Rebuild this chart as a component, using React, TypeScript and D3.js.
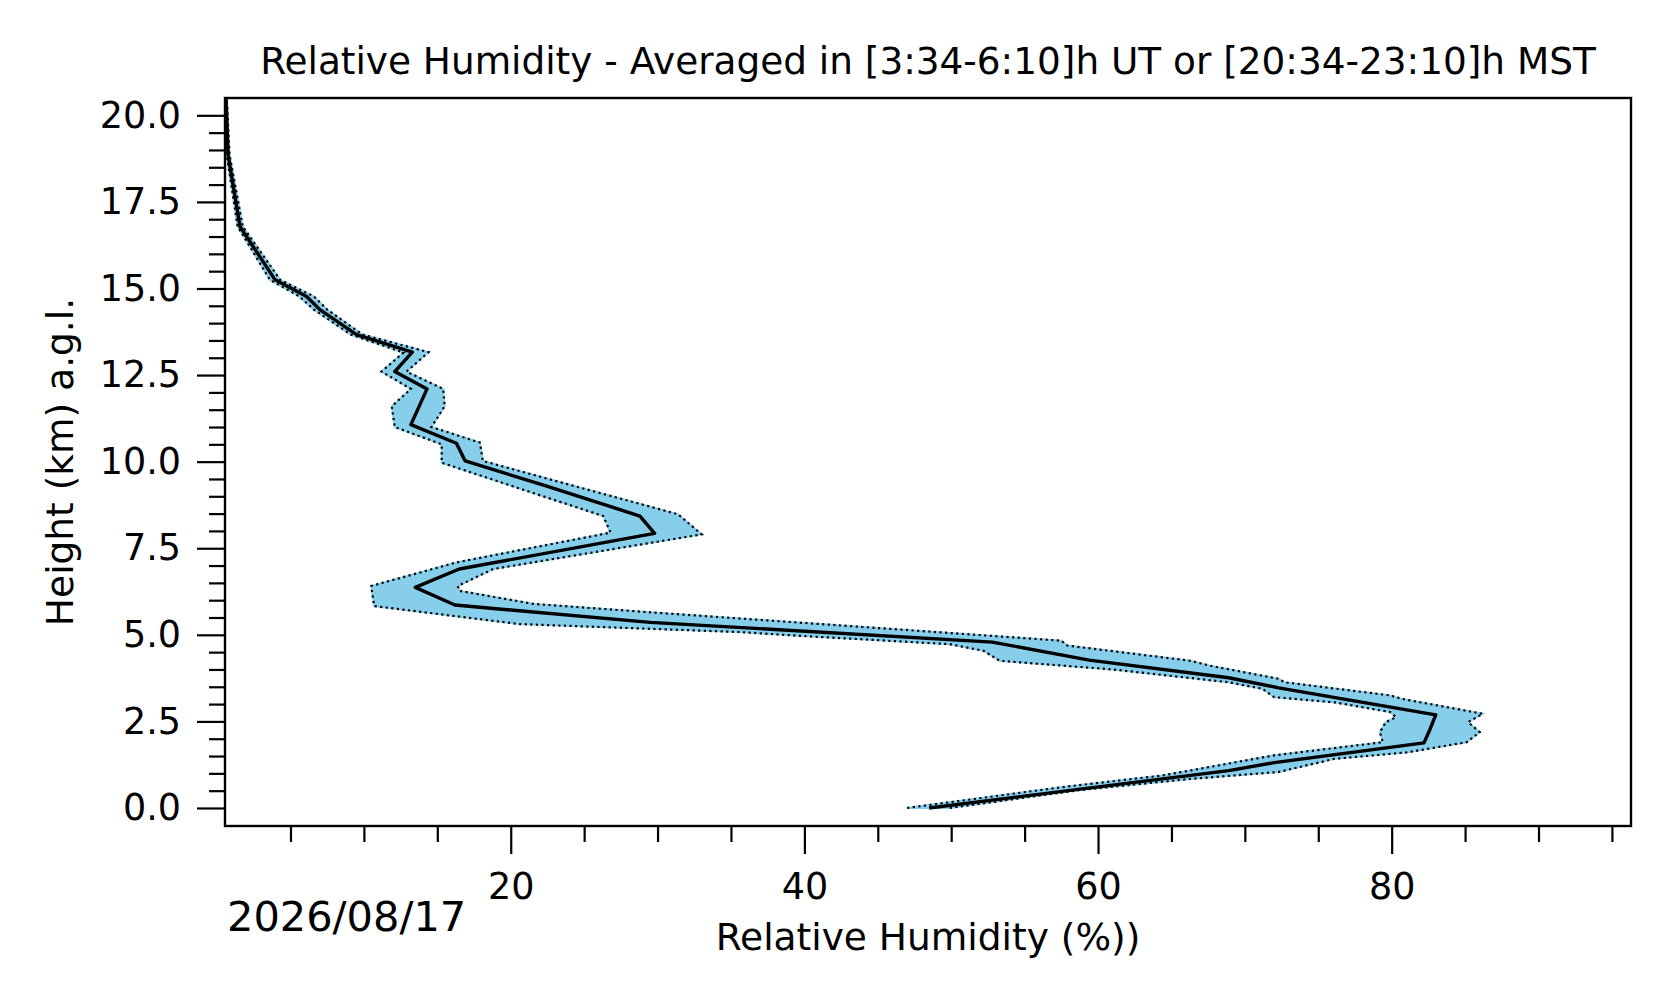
import React, { useEffect, useRef } from 'react';
import * as d3 from 'd3';

// profiles as [relative humidity %, height km]
const meanProfile: [number, number][] = [
  [48.5, 0.0], [68.9, 1.08], [72.0, 1.31], [82.2, 1.88], [82.6, 2.26], [83.0, 2.69],
  [72.3, 3.47], [68.9, 3.76], [59.4, 4.27], [52.8, 4.79], [29.5, 5.36], [16.2, 5.86],
  [13.5, 6.37], [16.5, 6.9], [29.8, 7.93], [28.8, 8.43], [22.4, 9.3], [16.9, 10.02],
  [16.3, 10.53], [13.2, 11.07], [14.3, 12.1], [12.1, 12.6], [13.3, 13.16], [9.5, 13.67],
  [7.0, 14.39], [6.1, 14.77], [3.95, 15.25], [1.56, 16.79], [0.75, 18.86], [0.6, 20.6],
];

const upperProfile: [number, number][] = [
  [49.9, 0.0], [58.6, 0.51], [66.3, 0.84], [72.3, 1.04], [76.1, 1.42], [81.1, 1.61],
  [85.1, 1.9], [86.0, 2.19], [85.2, 2.48], [86.2, 2.72], [80.7, 3.15], [79.9, 3.25],
  [72.7, 3.63], [72.3, 3.73], [67.6, 4.11], [66.3, 4.25], [57.9, 4.69], [57.5, 4.83],
  [36.0, 5.46], [29.5, 5.65], [21.6, 5.89], [16.5, 6.27], [16.4, 6.41], [18.8, 6.9],
  [33.0, 7.9], [31.4, 8.48], [22.65, 9.49], [18.1, 10.02], [17.9, 10.55], [14.6, 11.0],
  [15.5, 11.6], [15.4, 12.1], [12.9, 12.6], [14.4, 13.16], [9.9, 13.67], [7.5, 14.39],
  [6.6, 14.77], [4.3, 15.25], [1.75, 16.79], [0.85, 18.86], [0.65, 20.6],
];

const lowerProfile: [number, number][] = [
  [47.0, 0.0], [57.5, 0.6], [64.4, 0.94], [72.0, 1.52], [79.4, 1.9], [79.2, 2.19],
  [79.6, 2.48], [80.3, 2.62], [79.9, 2.77], [76.1, 3.05], [72.0, 3.2], [71.2, 3.44],
  [68.9, 3.63], [61.0, 4.0], [53.3, 4.25], [52.2, 4.54], [49.9, 4.73], [39.7, 4.97],
  [35.6, 5.08], [20.6, 5.31], [10.7, 5.83], [10.5, 6.41], [16.3, 7.09], [26.8, 7.95],
  [26.3, 8.43], [22.2, 9.0], [15.3, 9.97], [15.3, 10.5], [12.1, 11.0], [11.9, 11.6],
  [13.2, 12.1], [11.2, 12.6], [12.7, 13.15], [9.1, 13.67], [6.6, 14.39], [5.6, 14.77],
  [3.6, 15.25], [1.4, 16.79], [0.65, 18.86], [0.55, 20.6],
];

const xMajorTicks = [20, 40, 60, 80];
const xMinorTicks = [5, 10, 15, 25, 30, 35, 45, 50, 55, 65, 70, 75, 85, 90, 95];
const yMajorTicks = [0, 2.5, 5, 7.5, 10, 12.5, 15, 17.5, 20];
const yMinorTicks = d3.range(0, 20.01, 0.5).filter(v => v % 2.5 !== 0);

const titleText = 'Relative Humidity - Averaged in [3:34-6:10]h UT or [20:34-23:10]h MST';
const xLabel = 'Relative Humidity (%))';
const yLabel = 'Height (km) a.g.l.';
const dateLabel = '2026/08/17';

const WIDTH = 1676;
const HEIGHT = 1003;
const FONT = '"DejaVu Sans", sans-serif';

const App: React.FC = () => {
  const svgRef = useRef<SVGSVGElement>(null);

  useEffect(() => {
    if (!svgRef.current) return;
    const svg = d3.select(svgRef.current);
    svg.selectAll('*').remove();

    const margin = { top: 98, right: 45, bottom: 177, left: 225 };
    const innerWidth = WIDTH - margin.left - margin.right;
    const innerHeight = HEIGHT - margin.top - margin.bottom;

    const x = d3.scaleLinear().domain([0.54, 96.3]).range([0, innerWidth]);
    const y = d3.scaleLinear().domain([-0.52, 20.5]).range([innerHeight, 0]);

    const g = svg.append('g').attr('transform', `translate(${margin.left},${margin.top})`);

    g.append('clipPath').attr('id', 'plot-clip')
      .append('rect').attr('width', innerWidth).attr('height', innerHeight);

    const line = d3.line<[number, number]>()
      .x(d => x(d[0]))
      .y(d => y(d[1]));

    const plot = g.append('g').attr('clip-path', 'url(#plot-clip)');

    // shaded band between lower and upper profiles
    const band = upperProfile.concat(lowerProfile.slice().reverse());
    plot.append('path')
      .attr('d', line(band) + 'Z')
      .attr('fill', '#87ceeb')
      .attr('stroke', '#87ceeb')
      .attr('stroke-width', 2);

    [lowerProfile, upperProfile].forEach(p => {
      plot.append('path')
        .attr('d', line(p))
        .attr('fill', 'none')
        .attr('stroke', '#000')
        .attr('stroke-width', 2.2)
        .attr('stroke-dasharray', '2.2,3.4');
    });

    plot.append('path')
      .attr('d', line(meanProfile))
      .attr('fill', 'none')
      .attr('stroke', '#000')
      .attr('stroke-width', 3.4)
      .attr('stroke-linejoin', 'round');

    // axes
    const xAxisMajor = d3.axisBottom(x).tickValues(xMajorTicks).tickSize(28).tickPadding(19)
      .tickFormat(d3.format('d'));
    const xAxisMinor = d3.axisBottom(x).tickValues(xMinorTicks).tickSize(16).tickFormat(() => '');
    const yAxisMajor = d3.axisLeft(y).tickValues(yMajorTicks).tickSize(28).tickPadding(16)
      .tickFormat(d3.format('.1f'));
    const yAxisMinor = d3.axisLeft(y).tickValues(yMinorTicks).tickSize(16).tickFormat(() => '');

    const styleAxis = (sel: d3.Selection<SVGGElement, unknown, null, undefined>) => {
      sel.select('.domain').remove();
      sel.selectAll('line').attr('stroke', '#000').attr('stroke-width', 2.2);
      sel.selectAll('text').attr('fill', '#000').style('font-size', '36.5px').style('font-family', FONT);
    };

    g.append('g').attr('transform', `translate(0,${innerHeight})`).call(xAxisMajor).call(styleAxis);
    g.append('g').attr('transform', `translate(0,${innerHeight})`).call(xAxisMinor).call(styleAxis);
    g.append('g').call(yAxisMajor).call(styleAxis);
    g.append('g').call(yAxisMinor).call(styleAxis);

    // frame
    g.append('rect')
      .attr('width', innerWidth)
      .attr('height', innerHeight)
      .attr('fill', 'none')
      .attr('stroke', '#000')
      .attr('stroke-width', 2.4);

    // texts
    svg.append('text')
      .attr('x', margin.left + innerWidth / 2)
      .attr('y', 61)
      .attr('text-anchor', 'middle')
      .attr('dominant-baseline', 'central')
      .style('font-family', FONT)
      .style('font-size', '37.4px')
      .text(titleText);

    svg.append('text')
      .attr('x', margin.left + innerWidth / 2)
      .attr('y', 937)
      .attr('text-anchor', 'middle')
      .attr('dominant-baseline', 'central')
      .style('font-family', FONT)
      .style('font-size', '37.5px')
      .text(xLabel);

    svg.append('text')
      .attr('transform', `translate(60,${margin.top + innerHeight / 2}) rotate(-90)`)
      .attr('text-anchor', 'middle')
      .attr('dominant-baseline', 'central')
      .style('font-family', FONT)
      .style('font-size', '37.5px')
      .text(yLabel);

    svg.append('text')
      .attr('x', 227)
      .attr('y', 916)
      .attr('dominant-baseline', 'central')
      .style('font-family', FONT)
      .style('font-size', '41.5px')
      .text(dateLabel);
  }, []);

  return (
    <svg
      ref={svgRef}
      width={WIDTH}
      height={HEIGHT}
      style={{ position: 'absolute', left: 0, top: 0, background: '#fff', display: 'block' }}
    />
  );
};

export default App;
